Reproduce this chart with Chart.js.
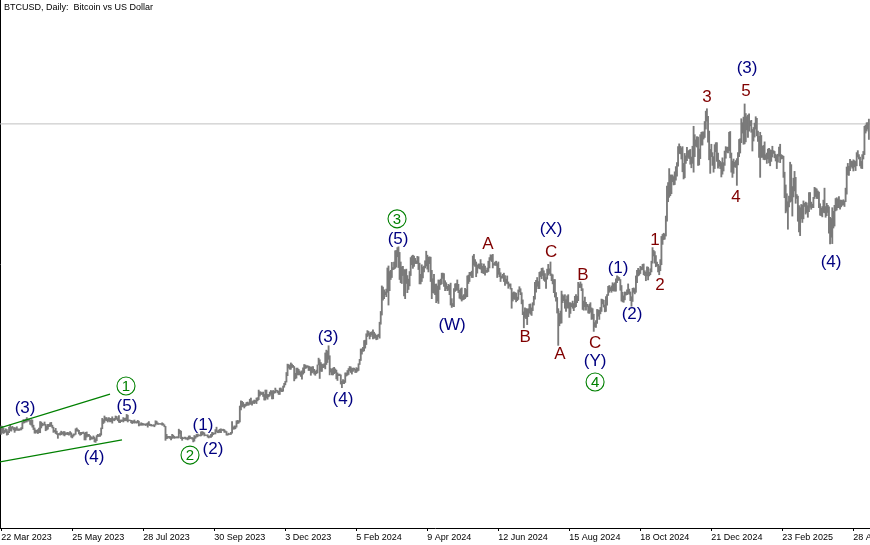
<!DOCTYPE html>
<html>
<head>
<meta charset="utf-8">
<title>BTCUSD Daily</title>
<script src="https://cdn.jsdelivr.net/npm/chart.js@4.4.1/dist/chart.umd.min.js"></script>
<style>
  html, body { margin: 0; padding: 0; background: #fff; }
  #btcChart { display: block; }
</style>
</head>
<body>
<canvas id="btcChart" width="870" height="545"></canvas>
<script>
// daily bars from 22 Mar 2023, prices in thousands of USD
const chartTitle = 'BTCUSD, Daily:  Bitcoin vs US Dollar';
const tickLabels = ['22 Mar 2023', '25 May 2023', '28 Jul 2023', '30 Sep 2023', '3 Dec 2023', '5 Feb 2024',
    '9 Apr 2024', '12 Jun 2024', '15 Aug 2024', '18 Oct 2024', '21 Dec 2024', '23 Feb 2025', '28 Apr 2025'];
const tickStep = 64; // days between labels

const lows = [
    26.8,27.2,27.0,27.2,27.4,26.6,26.7,27.2,27.7,27.6,
    28.3,27.9,27.3,27.7,27.9,27.8,27.8,27.9,27.9,28.2,29.6,29.7,29.9,29.9,30.2,30.1,29.3,29.1,28.6,28.0,27.1,27.1,27.3,27.0,27.2,27.2,28.4,28.9,29.1,29.1,
    27.7,27.9,28.1,28.7,28.8,28.8,28.4,27.3,27.4,27.0,26.8,25.8,26.7,26.6,26.7,26.9,26.6,26.4,26.7,26.8,26.7,26.6,26.8,26.1,25.9,26.3,26.6,26.8,27.6,27.6,26.9,
    26.6,26.7,27.0,27.0,25.4,25.4,26.1,26.3,26.3,25.4,25.6,25.6,25.7,24.9,24.8,25.2,26.2,26.3,26.3,26.6,28.2,29.5,29.8,30.3,30.2,29.9,30.2,29.9,30.0,29.6,
    30.3,30.2,30.5,30.6,30.2,29.8,29.7,30.0,30.1,29.9,30.2,30.2,30.2,29.9,30.2,30.2,29.7,29.5,29.7,29.6,29.7,29.6,29.7,28.9,29.1,29.1,29.1,29.1,29.2,29.0,29.1,
    28.6,29.1,29.0,28.9,28.9,28.9,28.7,29.1,29.4,29.3,29.3,29.4,29.3,29.1,29.1,28.7,25.3,25.7,25.8,26.0,25.8,25.4,25.8,25.9,25.8,25.9,25.9,25.9,25.9,27.0,25.7,
    25.3,25.7,25.8,25.6,25.6,25.4,25.6,25.7,25.8,25.6,24.9,25.1,25.8,26.1,26.2,26.5,26.4,26.4,26.6,26.8,26.4,26.5,26.5,26.1,25.9,26.1,26.0,26.3,26.7,26.9,
    26.9,27.4,27.2,27.2,27.3,27.2,27.8,27.7,27.3,27.3,26.6,26.6,26.7,26.8,26.8,27.1,28.1,28.1,28.2,28.6,29.5,29.6,29.9,32.9,33.7,33.8,33.4,33.8,34.0,34.1,34.1,
    34.3,34.4,34.1,34.6,34.5,34.8,34.5,35.2,35.5,36.4,36.8,36.8,36.3,35.4,35.4,35.9,35.6,36.2,36.4,36.8,35.7,35.7,37.1,37.2,37.6,37.2,36.8,36.8,37.6,37.5,
    37.6,38.6,39.2,39.9,41.5,43.4,43.1,43.1,43.6,43.6,40.2,40.7,40.9,41.7,41.7,41.7,41.3,40.6,41.9,42.2,43.3,43.4,43.6,42.8,42.8,41.6,42.2,42.4,41.9,41.6,42.0,
    42.2,44.2,40.8,42.6,42.6,43.5,43.6,43.2,44.3,44.8,45.6,41.7,42.4,41.7,41.7,42.0,42.2,40.7,40.3,41.5,41.5,39.4,38.5,39.5,39.5,39.8,41.4,41.6,41.8,42.7,42.3,
    41.9,42.6,42.9,42.3,42.3,42.6,42.8,44.3,45.3,46.9,47.6,47.7,48.4,49.3,51.3,51.6,50.7,51.3,51.7,50.7,50.9,50.9,50.5,50.6,51.3,50.9,54.4,56.7,60.4,
    60.8,61.8,61.3,62.4,59.2,62.8,65.6,66.1,68.1,68.2,68.4,68.7,71.3,68.6,65.6,64.8,64.6,66.6,61.5,60.8,64.6,62.3,63.1,64.0,66.6,69.3,68.4,68.9,69.6,69.6,69.6,
    68.1,64.5,64.5,65.1,66.0,67.5,68.5,69.0,68.2,67.5,69.6,65.1,60.8,62.3,62.2,61.8,59.8,60.2,59.6,63.1,64.3,64.5,65.9,63.9,62.8,63.3,62.8,62.9,61.8,59.2,
    58.6,58.9,58.8,62.6,62.9,62.9,62.3,60.9,60.7,60.2,60.5,60.6,60.8,61.2,61.3,64.6,65.1,66.6,66.1,66.1,69.2,68.9,66.3,67.2,68.5,68.3,68.2,67.3,67.2,67.1,66.7,
    67.4,67.4,67.6,68.5,70.4,70.1,68.5,69.2,69.2,69.1,66.1,66.9,66.3,65.1,65.9,66.0,65.1,64.1,64.7,64.5,63.4,63.9,63.2,58.4,60.2,60.7,60.6,60.0,60.3,60.6,
    62.5,61.8,59.5,56.8,53.5,56.1,55.8,54.3,56.3,57.2,56.9,56.6,57.8,59.2,60.7,62.4,63.9,63.3,63.3,66.3,65.8,66.6,65.4,65.1,63.4,65.7,66.7,67.1,66.6,65.3,64.5,
    62.3,61.2,60.2,57.2,49.1,54.0,54.6,54.7,59.8,60.3,58.4,57.6,58.5,58.4,56.1,57.1,58.8,58.4,57.8,58.6,58.8,59.8,60.3,63.6,63.6,62.8,58.1,57.9,58.8,57.9,58.8,
    57.2,57.1,57.4,55.6,55.7,52.6,53.7,53.6,54.6,56.4,55.6,57.0,57.6,59.5,58.7,57.5,57.6,59.2,61.6,62.4,62.8,62.4,62.8,62.7,62.7,62.7,64.8,65.4,65.4,62.9,
    60.2,60.0,59.9,60.5,61.7,61.8,62.1,61.9,60.3,58.9,60.1,62.4,62.0,62.4,64.8,66.5,66.7,67.1,68.0,68.1,66.8,66.6,65.3,66.5,65.5,66.5,66.8,67.5,69.7,71.5,69.7,
    68.8,69.1,67.5,66.8,67.8,69.3,74.4,75.6,75.7,76.5,80.2,85.1,86.2,86.6,87.1,90.1,89.3,89.4,90.5,91.5,94.0,97.2,97.1,95.8,92.6,90.8,91.1,94.7,95.4,96.2,
    95.9,94.5,93.6,94.7,92.5,96.4,99.0,98.8,94.2,94.3,95.9,99.3,99.3,100.8,101.2,103.3,105.3,100.0,95.6,92.2,96.4,94.2,92.5,93.4,97.6,95.2,93.5,94.0,93.4,91.3,92.0,
    92.8,94.2,96.0,97.5,97.3,97.9,96.1,92.5,91.2,92.2,93.8,93.7,89.2,94.3,96.4,97.3,99.9,102.3,99.5,99.6,100.1,103.1,101.2,102.8,104.1,102.5,97.8,100.3,101.3,103.3,101.6,
    100.2,96.2,91.2,96.2,96.2,95.7,95.6,95.7,94.7,95.8,94.8,94.1,95.2,96.3,97.2,96.1,95.3,93.4,95.0,96.5,94.9,95.8,95.9,91.2,86.1,82.3,82.7,78.2,
    83.8,85.0,85.2,81.5,86.3,87.8,84.7,85.9,80.2,77.5,76.6,80.8,79.9,80.8,83.9,82.0,82.4,81.2,82.6,83.7,83.2,83.6,83.6,85.9,86.4,85.9,85.9,83.6,81.7,81.6,81.3,
    82.4,82.3,81.2,81.6,82.4,77.2,74.5,76.2,74.6,78.5,79.0,82.8,83.0,83.6,83.6,83.2,83.8,84.2,84.3,83.9,85.1,87.0,91.8,91.7,92.9,93.9,93.5,92.8,93.8,92.9,
    94.1,96.3,95.8,94.1,93.5,93.4,95.8,96.9,102.3,102.8,103.3,100.7
];

const highs = [
    28.9,28.8,28.4,27.8,28.2,28.0,27.5,28.6,29.2,28.6,
    28.8,28.5,28.5,28.4,28.7,28.2,28.1,28.2,28.5,29.8,30.5,30.4,30.6,31.0,30.6,30.6,30.3,30.5,30.4,29.1,28.4,27.9,27.8,28.0,28.4,30.0,29.9,29.6,29.4,29.9,
    29.3,28.9,29.3,29.3,29.7,29.8,29.1,28.6,27.8,28.3,27.6,27.0,27.0,27.2,27.6,27.3,27.5,27.5,27.2,27.2,27.3,27.1,27.5,27.2,26.6,26.9,26.9,28.2,28.4,28.0,27.8,
    27.3,27.3,27.3,27.4,27.1,27.3,27.4,26.8,26.8,26.5,26.2,26.0,26.4,26.1,25.7,26.5,26.8,26.7,27.0,28.4,30.8,30.5,31.4,31.0,31.0,30.7,31.0,30.8,30.8,31.2,
    30.7,30.8,31.4,31.3,30.9,31.5,30.4,30.4,30.4,31.0,30.8,30.9,31.8,31.6,30.4,30.4,30.3,30.2,30.2,30.4,30.0,30.0,30.3,30.1,29.4,29.7,29.6,29.5,29.4,29.4,29.5,
    29.7,30.0,29.4,29.3,29.1,29.2,29.2,30.2,30.1,29.7,29.5,29.5,29.5,29.7,29.5,29.2,28.8,26.8,26.3,26.3,26.3,26.2,26.8,26.6,26.3,26.1,26.2,26.2,28.1,27.8,27.6,
    26.1,25.9,26.1,26.1,25.9,26.0,26.4,26.4,26.0,26.0,25.9,26.5,26.4,26.8,26.9,26.7,26.6,27.4,27.5,27.4,27.2,26.7,26.6,26.7,26.4,26.4,26.8,27.3,27.2,27.1,
    28.0,28.6,27.7,27.9,28.1,28.2,28.0,28.1,28.0,27.7,27.5,26.9,27.1,26.9,27.3,30.0,28.6,28.9,28.9,30.2,30.3,30.2,33.9,35.2,35.1,34.8,34.3,34.4,34.8,34.9,34.7,
    35.6,35.9,35.0,35.2,35.4,35.3,35.9,36.0,37.9,37.5,37.4,37.2,37.4,36.8,37.9,37.9,36.8,36.8,37.4,37.8,37.6,37.8,37.6,38.4,37.9,37.8,37.6,38.4,38.4,38.0,
    38.9,39.6,40.1,42.3,44.4,44.3,44.1,44.7,44.4,44.1,43.8,42.1,43.4,43.4,43.1,42.7,42.4,42.7,43.5,44.3,44.2,44.0,44.0,43.9,43.8,43.6,43.7,43.8,43.1,42.6,42.9,
    44.2,45.9,45.5,44.8,44.4,44.3,44.5,47.2,47.9,47.7,49.0,46.5,43.3,43.1,43.4,43.6,43.2,42.9,42.2,41.9,41.9,41.7,40.1,40.5,40.3,42.2,42.2,42.8,43.3,43.8,43.7,
    43.3,43.4,43.4,43.1,43.5,43.4,44.5,45.6,48.2,48.2,48.6,50.3,50.4,52.0,52.8,52.6,52.2,52.4,52.5,53.0,52.4,52.0,51.6,51.7,51.9,54.9,57.6,64.0,63.7,
    63.0,62.5,63.2,68.5,69.0,67.6,67.9,69.9,68.6,70.0,72.8,72.9,73.6,73.8,72.4,70.0,68.8,68.9,68.1,68.0,68.2,66.6,65.7,67.6,71.1,71.5,71.7,71.5,70.9,70.3,71.4,
    71.3,69.7,66.9,69.3,68.7,69.0,70.3,72.7,71.7,71.2,71.3,71.2,67.9,65.8,66.9,64.4,64.5,64.0,65.5,65.4,65.7,67.2,67.2,67.1,65.3,64.8,63.9,64.4,64.2,64.7,
    60.8,59.6,63.3,64.5,64.6,65.5,64.4,62.9,63.3,63.5,61.5,61.8,63.4,63.1,66.5,66.7,67.4,67.4,67.7,71.5,71.9,70.6,70.0,69.2,69.5,69.5,70.6,69.6,68.9,69.5,69.0,
    67.9,68.5,70.2,71.1,71.8,71.7,71.9,69.6,70.0,70.2,69.6,70.0,68.4,67.3,66.5,66.9,67.2,66.6,65.7,66.5,65.0,64.5,64.5,63.4,62.3,62.5,62.3,62.2,61.2,63.0,
    63.8,63.3,62.3,60.5,57.5,58.5,58.3,58.2,58.3,59.4,59.5,58.5,59.8,61.4,64.9,65.4,66.1,65.1,67.4,67.6,68.4,68.5,67.8,67.1,66.1,68.2,69.4,68.3,70.0,67.0,66.8,
    65.6,65.6,62.3,61.1,58.3,57.1,57.7,62.7,61.8,61.5,61.8,60.6,61.5,61.8,59.8,59.8,59.6,60.2,59.6,61.4,61.8,61.4,64.9,64.5,65.0,64.5,63.3,60.2,61.2,59.9,59.4,
    59.0,59.4,59.8,58.5,58.3,56.9,54.8,55.3,58.1,58.0,57.9,58.6,60.7,60.6,60.4,59.2,61.3,61.8,63.9,64.1,63.6,64.0,64.8,64.5,64.8,65.8,66.5,66.3,66.1,65.6,
    64.1,62.4,61.5,62.5,62.4,63.0,64.5,63.2,62.5,61.3,63.4,63.5,63.3,66.5,67.9,68.4,68.0,68.9,68.7,69.4,69.5,67.8,67.4,68.8,68.7,67.4,68.3,70.2,73.6,72.9,72.6,
    71.6,70.0,69.4,69.0,70.6,76.4,76.9,77.2,77.0,81.5,89.0,89.9,93.4,91.8,91.8,91.8,91.4,92.6,93.9,94.9,98.9,99.6,99.0,98.6,98.9,94.7,97.2,96.6,98.7,97.8,
    98.0,98.2,96.3,99.0,104.0,101.9,100.6,101.4,101.3,98.3,101.9,102.5,102.6,102.6,105.2,107.8,108.4,106.5,102.8,98.2,99.5,97.4,96.4,99.4,99.9,99.9,97.3,95.5,95.2,94.9,96.1,
    94.9,97.8,98.9,98.7,98.8,102.5,102.7,97.3,95.3,95.8,95.0,95.4,95.9,97.4,100.7,100.9,105.9,104.9,106.3,109.6,107.2,106.4,106.8,107.1,105.3,105.5,103.2,103.7,104.8,106.4,106.0,
    102.8,101.5,102.5,101.7,99.0,99.2,100.1,96.9,97.3,98.3,98.5,98.1,98.0,99.0,97.9,97.7,97.0,96.7,97.0,98.8,99.5,96.9,96.7,96.5,92.5,89.3,87.1,85.1,
    86.5,95.0,94.4,88.9,91.0,92.7,91.2,86.9,86.5,84.1,83.6,84.4,84.3,85.3,84.7,85.0,84.8,84.1,87.4,87.4,85.0,84.5,86.2,88.7,88.5,88.3,87.8,87.5,84.6,83.5,83.9,
    85.5,88.5,83.9,84.7,84.2,83.8,81.2,80.9,83.6,82.7,84.2,85.9,86.1,85.8,86.4,85.5,85.5,85.4,85.6,85.3,88.5,93.8,94.7,94.0,95.7,95.3,95.2,95.6,95.4,95.2,
    97.4,97.9,96.9,96.3,95.2,96.9,97.7,104.0,104.3,104.9,104.9,105.8
];

const bidPrice = 104.6;

// green channel lines: [startDay, startPrice, endDay, endPrice]
const channelUpper = [-1.2, 28.4, 98.0, 36.9];
const channelLower = [-1.2, 19.9, 108.8, 25.4];

// wave marks: text, day, price, kind
const waveLabels = [
    ['(3)', 21.4, 33.4, 'navy'], ['(4)', 83.6, 21.1, 'navy'], ['(5)', 113.3, 33.9, 'navy'], ['1', 112.4, 38.9, 'circle'],
    ['(1)', 181.8, 29.15, 'navy'], ['(2)', 190.8, 23.1, 'navy'], ['2', 170.1, 21.6, 'circle'],
    ['(3)', 294.5, 51.2, 'navy'], ['(4)', 308.0, 35.7, 'navy'], ['(5)', 357.6, 75.8, 'navy'], ['3', 356.7, 80.8, 'circle'],
    ['(W)', 406.3, 54.2, 'navy'], ['A', 438.7, 74.3, 'red'], ['B', 472.1, 51.0, 'red'],
    ['(X)', 495.5, 78.3, 'navy'], ['C', 495.5, 72.5, 'red'], ['A', 503.6, 46.9, 'red'],
    ['B', 524.3, 66.7, 'red'], ['C', 535.2, 49.7, 'red'], ['(Y)', 535.2, 45.2, 'navy'], ['4', 535.2, 39.9, 'circle'],
    ['(1)', 555.9, 68.5, 'navy'], ['(2)', 568.5, 57.0, 'navy'], ['1', 589.2, 75.5, 'red'], ['2', 593.7, 64.2, 'red'],
    ['3', 636.1, 111.3, 'red'], ['5', 671.3, 112.85, 'red'], ['(3)', 672.2, 118.6, 'navy'], ['4', 662.3, 86.3, 'red'],
    ['(4)', 747.9, 70.0, 'navy']
];

const NAVY = '#000080';
const MAROON = '#800000';
const GREEN = '#008000';

const bars = lows.map((lo, i) => ({ x: i, y: [lo, highs[i]] }));
const segment = s => [{ x: s[0], y: s[1] }, { x: s[2], y: s[3] }];

const labelsPlugin = {
    id: 'waveLabels',
    afterDatasetsDraw(chart) {
        const { ctx, scales: { x, y } } = chart;
        ctx.save();
        ctx.textAlign = 'center';
        ctx.textBaseline = 'middle';
        waveLabels.forEach(([text, day, price, kind]) => {
            const px = x.getPixelForValue(day);
            const py = y.getPixelForValue(price);
            if (kind === 'circle') {
                ctx.strokeStyle = GREEN;
                ctx.lineWidth = 1.1;
                ctx.beginPath();
                ctx.arc(px, py, 9, 0, Math.PI * 2);
                ctx.stroke();
                ctx.fillStyle = GREEN;
                ctx.font = '15px "Liberation Sans", Arial, sans-serif';
                ctx.fillText(text, px, py + 0.5);
            } else {
                ctx.fillStyle = kind === 'red' ? MAROON : NAVY;
                ctx.font = '17px "Liberation Sans", Arial, sans-serif';
                ctx.fillText(text, px, py);
            }
        });
        ctx.restore();
    },
    afterDraw(chart) {
        const ctx = chart.ctx;
        ctx.save();
        ctx.fillStyle = '#000';
        ctx.font = '9px "Liberation Sans", Arial, sans-serif';
        ctx.textAlign = 'left';
        ctx.textBaseline = 'alphabetic';
        ctx.fillText(chartTitle, 4, 10);
        ctx.restore();
    }
};

const ctx = document.getElementById('btcChart').getContext('2d');
const btcChart = new Chart(ctx, {
    type: 'bar',
    data: {
        datasets: [
            {
                type: 'line',
                data: segment(channelUpper),
                borderColor: GREEN,
                borderWidth: 1.3,
                pointRadius: 0,
                order: 0
            },
            {
                type: 'line',
                data: segment(channelLower),
                borderColor: GREEN,
                borderWidth: 1.3,
                pointRadius: 0,
                order: 0
            },
            {
                label: 'BTCUSD',
                data: bars,
                backgroundColor: '#7a7a7a',
                borderWidth: 0,
                barThickness: 1.2,
                grouped: false,
                order: 1
            },
            {
                type: 'line',
                data: [{ x: -5, y: bidPrice }, { x: 800, y: bidPrice }],
                borderColor: '#c0c0c0',
                borderWidth: 1,
                pointRadius: 0,
                order: 3
            }
        ]
    },
    options: {
        responsive: false,
        animation: false,
        events: [],
        layout: { padding: { left: 0, right: 0, top: 0, bottom: 0 } },
        plugins: {
            legend: { display: false },
            tooltip: { enabled: false }
        },
        scales: {
            x: {
                type: 'linear',
                position: 'bottom',
                offset: false,
                min: -1.17,
                max: 783.0,
                grid: {
                    offset: false,
                    drawOnChartArea: false,
                    drawTicks: true,
                    tickLength: 3,
                    color: '#000'
                },
                border: { color: '#000', width: 1 },
                afterBuildTicks: scale => {
                    scale.ticks = tickLabels.map((_, i) => ({ value: i * tickStep }));
                },
                afterFit: scale => {
                    scale.height = 17;
                    scale.paddingLeft = 0;
                    scale.paddingRight = 0;
                },
                ticks: {
                    autoSkip: false,
                    maxRotation: 0,
                    align: 'start',
                    padding: 1,
                    color: '#000',
                    font: { family: '"Liberation Sans", Arial, sans-serif', size: 9 },
                    callback: value => tickLabels[Math.round(value / tickStep)]
                }
            },
            y: {
                min: 3.33,
                max: 135.65,
                grid: { display: false, drawTicks: false },
                ticks: { display: false },
                border: { display: true, color: '#000' }
            }
        }
    },
    plugins: [labelsPlugin]
});
</script>
</body>
</html>
